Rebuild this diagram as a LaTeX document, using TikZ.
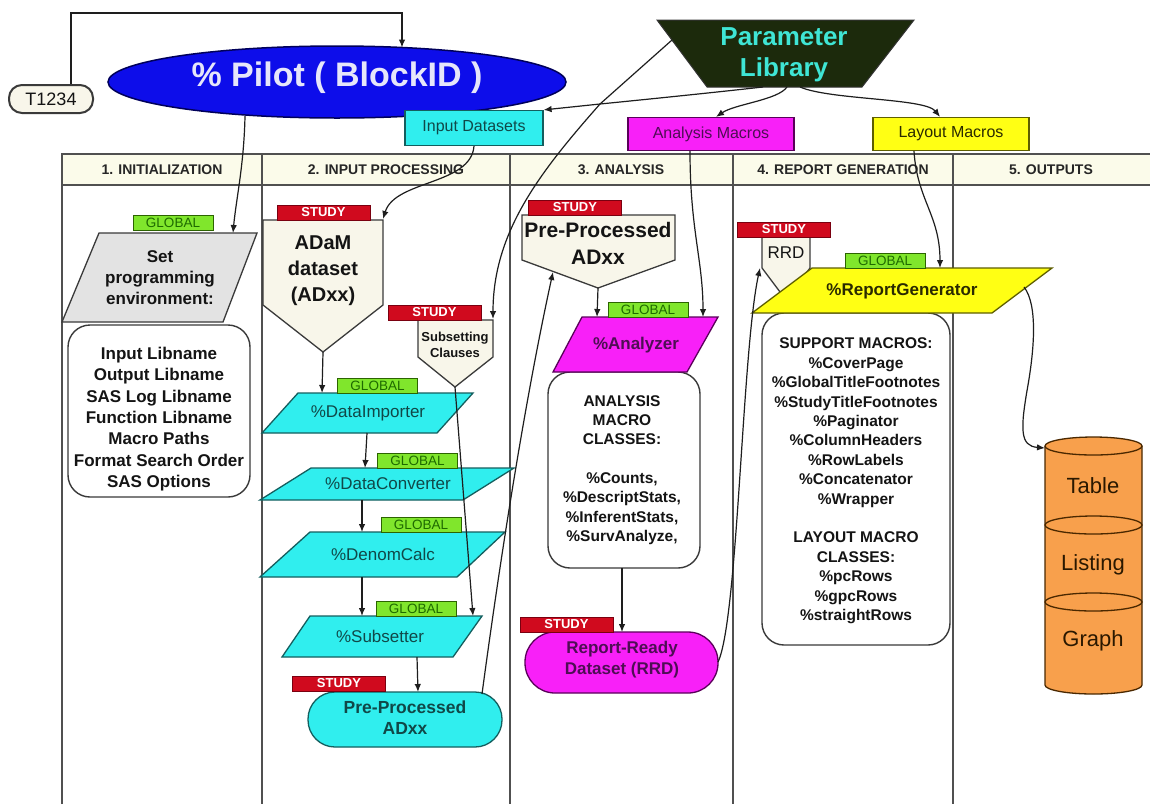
\documentclass[tikz,border=0pt]{standalone}
\usepackage{fontspec}
\setmainfont{Liberation Sans}
\usetikzlibrary{arrows.meta,shapes.geometric}
\newcommand\myfs[2]{\fontsize{#1}{#2}\selectfont}
\definecolor{lanegray}{HTML}{505050}
\definecolor{conncol}{HTML}{1E1E1E}
\definecolor{hdrfill}{HTML}{FBFBEA}
\definecolor{hdrtext}{HTML}{262626}
\definecolor{pilotblue}{HTML}{0D0DEA}
\definecolor{pilotedge}{HTML}{00005A}
\definecolor{pilottext}{HTML}{E6E6FA}
\definecolor{libfill}{HTML}{1C2A0C}
\definecolor{libtext}{HTML}{3FE5D5}
\definecolor{cyanfill}{HTML}{30EEEE}
\definecolor{cyanedge}{HTML}{145E5E}
\definecolor{cyantext}{HTML}{104848}
\definecolor{magfill}{HTML}{F820F8}
\definecolor{magedge}{HTML}{5A005A}
\definecolor{magtext}{HTML}{4E0E54}
\definecolor{yelfill}{HTML}{FFFF14}
\definecolor{yeledge}{HTML}{5E5E00}
\definecolor{yeltext}{HTML}{2A2A00}
\definecolor{sfill}{HTML}{D00A1E}
\definecolor{sedge}{HTML}{7A0010}
\definecolor{gfill}{HTML}{80E62C}
\definecolor{gedge}{HTML}{2C6400}
\definecolor{gtext}{HTML}{1E6A00}
\definecolor{pentfill}{HTML}{F8F6EA}
\definecolor{shapeedge}{HTML}{3A3A3A}
\definecolor{envfill}{HTML}{E3E3E3}
\definecolor{cylfill}{HTML}{F8A04C}
\definecolor{cyledge}{HTML}{4A2800}
\definecolor{cyltext}{HTML}{2A1800}
\definecolor{boxtext}{HTML}{141414}
\begin{document}
\begin{tikzpicture}[x=1pt,y=-1pt,
  lane/.style={draw=lanegray,line width=1.6pt},
  conn/.style={draw=conncol,line width=1.2pt,-{Latex[length=8pt,width=6.5pt]}},
  wire/.style={draw=conncol,line width=1.2pt},
  hdr/.style={text=hdrtext,font=\myfs{14}{15}\bfseries,inner sep=0pt},
  gtag/.style={draw=gedge,fill=gfill,line width=1pt,minimum width=80pt,minimum height=15pt,inner sep=0pt,text=gtext,font=\myfs{13.5}{14}},
  stag/.style={draw=sedge,fill=sfill,line width=0.8pt,minimum width=93pt,minimum height=15pt,inner sep=0pt,text=white,font=\myfs{13}{14}\bfseries},
  pent/.style={draw=shapeedge,fill=pentfill,line width=1.3pt},
  cyanpara/.style={draw=cyanedge,fill=cyanfill,line width=1.3pt},
  cyantxt/.style={text=cyantext,font=\myfs{17}{20},inner sep=0pt},
  rbox/.style={draw=shapeedge,fill=white,line width=1.4pt,rounded corners=22pt,inner sep=0pt},
  btxt/.style={text=boxtext,align=center,inner sep=0pt},
  macbox/.style={line width=1.2pt,inner sep=0pt,font=\myfs{16}{18}}
]
\fill[white] (0,0) rectangle (1150,804);
\useasboundingbox (0,0) rectangle (1150,804);

% ---------- swimlanes ----------
\fill[hdrfill] (62,154) rectangle (1150,185);
\draw[lane] (62,804) -- (62,154) -- (1150,154);
\draw[lane] (62,185) -- (1150,185);
\foreach \x in {262,510,733,953} \draw[lane] (\x,154) -- (\x,804);
\node[hdr] (h1) at (162,170) {1. INITIALIZATION};
\node[hdr] (h2) at (386,170) {2. INPUT PROCESSING};
\node[hdr] (h3) at (621,170) {3. ANALYSIS};
\node[hdr] (h4) at (843,170) {4. REPORT GENERATION};
\node[hdr] (h5) at (1051,170) {5. OUTPUTS};

% ---------- top row ----------
\node[ellipse,draw=pilotedge,fill=pilotblue,line width=1.5pt,minimum width=458pt,minimum height=72pt,inner sep=0pt] (pilot) at (337,82) {};
\node[text=pilottext,font=\myfs{34}{40}\bfseries,inner sep=0pt] (pilottxt) at (337,78) {\% Pilot ( BlockID )};
\node[draw=shapeedge,fill=pentfill,line width=2pt,rounded corners=13pt,minimum width=84pt,minimum height=28pt,inner sep=0pt,text=boxtext,font=\myfs{18}{20}] (t) at (51,99) {T1234};

\draw[fill=libfill,draw=black!80,line width=1pt] (657,20) -- (914,20) -- (862,87) -- (707,87) -- cycle;
\node[text=libtext,font=\myfs{26}{31}\bfseries,align=center,inner sep=0pt] (lib) at (784,55) {Parameter\\Library};

\node[macbox,draw=cyanedge,fill=cyanfill,minimum width=138pt,minimum height=35pt,text=cyantext] (ids) at (474,128) {Input Datasets};
\node[macbox,draw=magedge,fill=magfill,minimum width=166pt,minimum height=33pt,text=magtext] (amac) at (711,134) {Analysis Macros};
\node[macbox,draw=yeledge,fill=yelfill,minimum width=156pt,minimum height=33pt,text=yeltext] (lmac) at (951,134) {Layout Macros};

% ---------- column 1 ----------
\draw[draw=shapeedge,fill=envfill,line width=1.3pt] (99,233) -- (257,233) -- (223,322) -- (62,322) -- cycle;
\node[btxt,font=\myfs{17}{21}\bfseries] (env) at (160,278) {Set\\programming\\environment:};
\node[gtag] (genv) at (173,223) {GLOBAL};
\node[rbox,minimum width=182pt,minimum height=172pt] (envbox) at (159,411) {};
\node[btxt,font=\myfs{17}{21.3}\bfseries] (envtxt) at (159,419) {Input Libname\\Output Libname\\SAS Log Libname\\Function Libname\\Macro Paths\\Format Search Order\\SAS Options};

% ---------- column 2 ----------
\draw[pent] (263,220) -- (383,220) -- (383,305) -- (323,352) -- (263,305) -- cycle;
\node[stag] (sadam) at (323.5,212.5) {STUDY};
\node[btxt,font=\myfs{20}{26}\bfseries] (adam) at (323,271) {ADaM\\dataset\\(ADxx)};

\draw[pent] (418,320) -- (493,320) -- (493,357) -- (455,387) -- (418,357) -- cycle;
\node[stag] (ssub) at (434.5,312.5) {STUDY};
\node[btxt,font=\myfs{13}{16}\bfseries] (subc) at (455,345) {Subsetting\\Clauses};

\draw[cyanpara] (298,393) -- (473,393) -- (437,433) -- (262,433) -- cycle;
\node[cyantxt] (imp) at (368,413) {\%DataImporter};
\node[gtag] (gimp) at (377.5,385.5) {GLOBAL};

\draw[cyanpara] (311,468) -- (514,468) -- (463,500) -- (260,500) -- cycle;
\node[cyantxt] (conv) at (388,484) {\%DataConverter};
\node[gtag] (gconv) at (417.5,460.5) {GLOBAL};

\draw[cyanpara] (310,532) -- (505,532) -- (457,577) -- (260,577) -- cycle;
\node[cyantxt] (den) at (383,554) {\%DenomCalc};
\node[gtag] (gden) at (421,524.5) {GLOBAL};

\draw[cyanpara] (310,616) -- (482,616) -- (453,657) -- (282,657) -- cycle;
\node[cyantxt] (sub) at (380,636) {\%Subsetter};
\node[gtag] (gsub) at (416,608.5) {GLOBAL};

\node[draw=cyanedge,fill=cyanfill,line width=1.3pt,rounded corners=27pt,minimum width=194pt,minimum height=55pt,inner sep=0pt] (ppe) at (405,719.5) {};
\node[text=cyantext,font=\myfs{17.5}{21}\bfseries,align=center,inner sep=0pt] (ppetxt) at (405,718) {Pre-Processed\\ADxx};
\node[stag] (sppe) at (339,683.5) {STUDY};

% ---------- column 3 ----------
\draw[pent] (522,215) -- (675,215) -- (675,260) -- (598,288) -- (522,260) -- cycle;
\node[stag] (sppa) at (575,207.5) {STUDY};
\node[btxt,font=\myfs{21}{27}\bfseries] (ppa) at (598,243) {Pre-Processed\\ADxx};

\node[rbox,minimum width=152pt,minimum height=196pt] (abox) at (624,470) {};
\node[btxt,font=\myfs{15.5}{19.3}\bfseries] (aboxtxt) at (622,470) {ANALYSIS\\MACRO\\CLASSES:\\[19.3pt]\%Counts,\\\%DescriptStats,\\\%InferentStats,\\\%SurvAnalyze,};

\draw[draw=magedge,fill=magfill,line width=1.3pt] (582,317) -- (718,317) -- (687,372) -- (553,372) -- cycle;
\node[text=magtext,font=\myfs{17}{20}\bfseries,inner sep=0pt] (ana) at (636,345) {\%Analyzer};
\node[gtag] (gana) at (648,309.5) {GLOBAL};

\node[draw=magedge,fill=magfill,line width=1.3pt,rounded corners=30pt,minimum width=193pt,minimum height=61pt,inner sep=0pt] (rrd) at (621.5,662.5) {};
\node[text=magtext,font=\myfs{17}{21}\bfseries,align=center,inner sep=0pt] (rrdtxt) at (622,660) {Report-Ready\\Dataset (RRD)};
\node[stag] (srrd) at (566.5,624.5) {STUDY};

% ---------- column 4 ----------
\draw[pent] (762,237) -- (810,237) -- (810,268) -- (786,300) -- (762,268) -- cycle;
\node[stag] (srrdp) at (784,229.5) {STUDY};
\node[btxt,font=\myfs{17}{20}] (rrdp) at (786,253) {RRD};

\node[rbox,minimum width=188pt,minimum height=332pt] (rbox4) at (856,479) {};
\node[btxt,font=\myfs{15.5}{19.4}\bfseries] (rboxtxt) at (856,481) {SUPPORT MACROS:\\\%CoverPage\\\%GlobalTitleFootnotes\\\%StudyTitleFootnotes\\\%Paginator\\\%ColumnHeaders\\\%RowLabels\\\%Concatenator\\\%Wrapper\\[19.4pt]LAYOUT MACRO\\CLASSES:\\\%pcRows\\\%gpcRows\\\%straightRows};

\draw[draw=yeledge,fill=yelfill,line width=1.3pt] (812,268) -- (1052,268) -- (992,313) -- (752,313) -- cycle;
\node[text=yeltext,font=\myfs{17}{20}\bfseries,inner sep=0pt] (rg) at (902,291) {\%ReportGenerator};
\node[gtag] (grg) at (885,260.5) {GLOBAL};

% ---------- column 5: outputs ----------
\fill[cylfill] (1045,446) -- (1045,685) arc[start angle=180,end angle=0,x radius=48.5,y radius=9] -- (1142,446) -- cycle;
\draw[cyledge,line width=1.3pt] (1045,446) -- (1045,685) arc[start angle=180,end angle=0,x radius=48.5,y radius=9] -- (1142,446);
\foreach \yy in {446,525,602} \draw[cyledge,fill=cylfill,line width=1.3pt] (1093.5,\yy) ellipse [x radius=48.5,y radius=9];
\coordinate (cyl) at (1045,448);
\node[text=cyltext,font=\myfs{22}{24},inner sep=0pt] (tab) at (1093,486) {Table};
\node[text=cyltext,font=\myfs{22}{24},inner sep=0pt] (lst) at (1093,565) {Listing};
\node[text=cyltext,font=\myfs{22}{24},inner sep=0pt] (gra) at (1093,641) {Graph};

% ---------- named connector ends ----------
\coordinate (pilotin) at (402,47.5);
\coordinate (pilotout) at (245,116);
\coordinate (envin) at (233,233);
\coordinate (vtx) at (600,104);
\coordinate (libleft) at (672,40);
\coordinate (libb1) at (763,87);
\coordinate (libb2) at (787,87);
\coordinate (libb3) at (800,87);
\coordinate (adamin) at (383,219);
\coordinate (adamtip) at (323,352);
\coordinate (impin) at (322,393);
\coordinate (impout) at (367,433);
\coordinate (convin) at (365,468);
\coordinate (convout) at (362,500);
\coordinate (denin) at (362,532);
\coordinate (denout) at (362,577);
\coordinate (subin) at (362,616);
\coordinate (subin2) at (473,616);
\coordinate (subout) at (417,657);
\coordinate (subcin) at (493,319);
\coordinate (subctip) at (455,387);
\coordinate (ppein) at (418,692);
\coordinate (ppeout) at (482,694);
\coordinate (ppain) at (553,272);
\coordinate (ppatip) at (598,288);
\coordinate (anain) at (597,317);
\coordinate (anain2) at (703,317);
\coordinate (aboxout) at (622,568);
\coordinate (rrdin) at (622,632);
\coordinate (rrdout) at (718,662);
\coordinate (rrdpin) at (760,268);
\coordinate (rgin) at (940,268);
\coordinate (rgout) at (1024,287);

% ---------- connectors ----------
\draw[conn] ([xshift=20pt]t.north) |- (402,13) -- (pilotin);
\draw[conn] (pilotout) .. controls (244,165) and (236,200) .. (envin);
\draw[wire] (libleft) -- (vtx);
\draw[conn] (libb1) .. controls (700,94) and (640,100) .. (vtx) -- (ids.north east);
\draw[conn] (vtx) .. controls (540,172) and (493,232) .. (subcin);
\draw[conn] (libb2) .. controls (778,100) and (735,104) .. ([xshift=5pt]amac.north);
\draw[conn] (libb3) .. controls (830,100) and (925,98) .. ([xshift=-11pt]lmac.north);
\draw[conn] (ids.south) .. controls (471,185) and (395,180) .. (adamin);
\draw[conn] (adamtip) -- (impin);
\draw[conn] (impout) -- (convin);
\draw[conn] (convout) -- (denin);
\draw[conn] (denout) -- (subin);
\draw[conn] (subctip) -- (subin2);
\draw[conn] (subout) -- (ppein);
\draw[conn] (ppeout) .. controls (500,560) and (525,400) .. (ppain);
\draw[conn] (ppatip) -- (anain);
\draw[conn] ([xshift=-21pt]amac.south) .. controls (690,230) and (703,260) .. (anain2);
\draw[conn] (aboxout) -- (rrdin);
\draw[conn] (rrdout) .. controls (738,620) and (742,350) .. (rrdpin);
\draw[conn] ([xshift=-37pt]lmac.south) .. controls (917,200) and (940,215) .. (rgin);
\draw[conn] (rgout) .. controls (1038,305) and (1034,350) .. (1028,385) .. controls (1020,430) and (1020,446) .. (cyl);
\end{tikzpicture}
\end{document}
